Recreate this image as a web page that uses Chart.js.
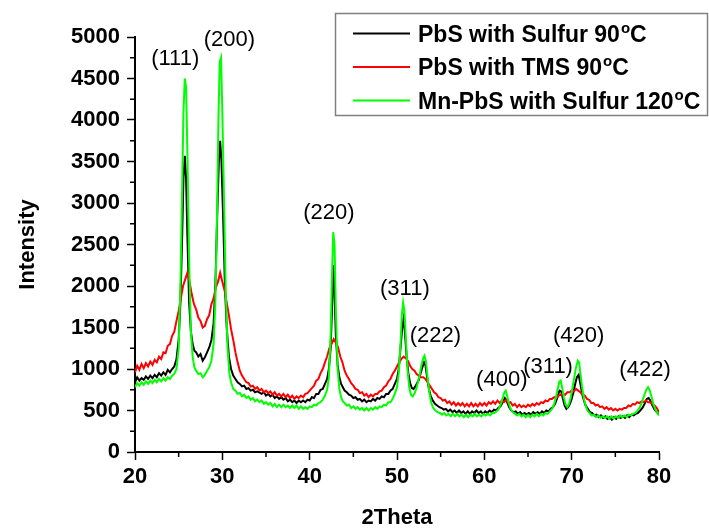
<!DOCTYPE html>
<html>
<head>
<meta charset="utf-8">
<title>XRD PbS</title>
<script src="https://cdn.jsdelivr.net/npm/chart.js@4.4.0/dist/chart.umd.min.js"></script>
<style>
  html, body { margin: 0; padding: 0; background: #fff; }
  #wrap { width: 709px; height: 528px; }
</style>
</head>
<body>
<div id="wrap"><canvas id="xrd" width="709" height="528"></canvas></div>
<script>
// ── data ───────────────────────────────────────────────
const seriesNames = ['PbS with Sulfur 90°C', 'PbS with TMS 90°C', 'Mn-PbS with Sulfur 120°C'];
const seriesColors = ['#000000', '#ff0000', '#00ff00'];

// [2theta, intensity]
const sulfur90 = [
  [20,840],[20.25,900],[20.5,860],[20.75,890],[21,870],[21.25,910],[21.5,880],[21.75,920],[22,890],[22.25,930],
  [22.5,900],[22.75,950],[23,920],[23.25,960],[23.5,930],[23.75,990],[24,960],[24.25,1000],[24.5,1030],[24.75,1120],
  [25,1350],[25.2,1800],[25.4,2600],[25.55,3300],[25.7,3570],[25.85,3300],[26,2600],[26.2,1800],[26.4,1450],[26.6,1300],
  [26.8,1220],[27,1200],[27.25,1150],[27.5,1180],[27.75,1100],[28,1140],[28.25,1200],[28.5,1260],[28.75,1350],[29,1550],
  [29.2,2000],[29.4,2800],[29.6,3500],[29.75,3750],[29.9,3500],[30.1,2800],[30.3,2000],[30.5,1500],[30.75,1150],[31,1000],
  [31.25,920],[31.5,880],[31.75,840],[32,820],[32.25,790],[32.5,800],[32.75,760],[33,770],[33.25,740],[33.5,750],
  [33.75,720],[34,730],[34.5,700],[34.75,720],[35,680],[35.25,700],[35.5,670],[35.75,690],[36,650],[36.25,670],
  [36.5,640],[36.75,660],[37,630],[37.25,650],[37.5,610],[37.75,630],[38,600],[38.25,620],[38.5,590],[38.75,620],
  [39,600],[39.25,620],[39.5,600],[39.75,630],[40,620],[40.25,660],[40.5,650],[40.75,700],[41,700],[41.25,750],
  [41.5,760],[41.75,820],[42,880],[42.2,1000],[42.4,1250],[42.55,1700],[42.7,2250],[42.85,1900],[43,1400],[43.2,1050],
  [43.4,900],[43.6,820],[43.8,780],[44,740],[44.25,720],[44.5,690],[44.75,680],[45,650],[45.25,660],[45.5,630],
  [45.75,640],[46,610],[46.25,630],[46.5,600],[46.75,620],[47,610],[47.25,640],[47.5,620],[47.75,650],[48,640],
  [48.25,670],[48.5,660],[48.75,700],[49,700],[49.25,740],[49.5,760],[49.75,820],[50,880],[50.2,1000],[50.4,1250],
  [50.6,1500],[50.75,1600],[50.9,1450],[51.1,1150],[51.3,950],[51.5,830],[51.7,770],[51.9,760],[52.1,790],[52.3,830],
  [52.5,870],[52.7,950],[52.9,1020],[53.1,1080],[53.25,1050],[53.45,900],[53.65,760],[53.85,680],[54.1,620],[54.35,580],
  [54.6,560],[54.85,540],[55.1,530],[55.35,510],[55.6,520],[55.85,490],[56.1,510],[56.35,480],[56.6,500],[56.85,470],
  [57.1,500],[57.35,470],[57.6,490],[57.85,460],[58.1,490],[58.35,460],[58.6,490],[58.85,470],[59.1,500],[59.35,470],
  [59.6,490],[59.85,460],[60.1,490],[60.35,470],[60.6,500],[60.85,480],[61.1,510],[61.35,500],[61.6,530],[61.85,550],
  [62.1,600],[62.35,650],[62.6,600],[62.85,540],[63.1,500],[63.35,480],[63.6,490],[63.85,460],[64.1,480],[64.35,450],
  [64.6,470],[64.85,450],[65.1,470],[65.35,450],[65.6,480],[65.85,460],[66.1,480],[66.35,460],[66.6,490],[66.85,470],
  [67.1,500],[67.35,490],[67.6,520],[67.85,540],[68.1,580],[68.35,650],[68.6,740],[68.8,730],[69,640],[69.2,560],
  [69.4,520],[69.6,540],[69.8,580],[70,640],[70.2,720],[70.4,820],[70.6,900],[70.8,930],[71,820],[71.2,700],
  [71.4,620],[71.6,560],[71.85,520],[72.1,480],[72.35,470],[72.6,440],[72.85,450],[73.1,420],[73.35,440],[73.6,410],
  [73.85,430],[74.1,400],[74.35,420],[74.6,390],[74.85,420],[75.1,400],[75.35,430],[75.6,410],[75.85,430],[76.1,410],
  [76.35,440],[76.6,420],[76.85,450],[77.1,440],[77.35,460],[77.6,470],[77.85,500],[78.1,530],[78.35,580],[78.6,640],
  [78.8,650],[79,620],[79.25,560],[79.5,510],[79.75,480],[80,450]
];

const tms90 = [
  [20,960],[20.25,1040],[20.5,990],[20.75,1060],[21,1010],[21.25,1070],[21.5,1030],[21.75,1090],[22,1050],[22.25,1110],
  [22.5,1080],[22.75,1150],[23,1120],[23.25,1200],[23.5,1190],[23.75,1280],[24,1300],[24.25,1400],[24.5,1450],[24.75,1580],
  [25,1700],[25.25,1850],[25.5,2000],[25.75,2080],[26,2160],[26.25,2050],[26.5,1900],[26.75,1780],[27,1720],[27.25,1620],
  [27.5,1580],[27.75,1500],[28,1520],[28.25,1600],[28.5,1650],[28.75,1780],[29,1850],[29.25,1980],[29.5,2050],[29.75,2160],
  [30,2050],[30.25,1950],[30.5,1800],[30.75,1650],[31,1480],[31.25,1350],[31.5,1200],[31.75,1080],[32,980],[32.25,920],
  [32.5,880],[32.75,840],[33,830],[33.25,790],[33.5,800],[33.75,760],[34,780],[34.25,740],[34.5,760],[34.75,720],
  [35,740],[35.25,710],[35.5,730],[35.75,690],[36,720],[36.25,680],[36.5,700],[36.75,670],[37,700],[37.25,660],
  [37.5,690],[37.75,650],[38,680],[38.25,640],[38.5,670],[38.75,650],[39,680],[39.25,660],[39.5,700],[39.75,710],
  [40,740],[40.25,770],[40.5,800],[40.75,860],[41,880],[41.25,950],[41.5,1000],[41.75,1080],[42,1150],[42.25,1250],
  [42.5,1300],[42.75,1360],[43,1320],[43.25,1260],[43.5,1150],[43.75,1080],[44,980],[44.25,920],[44.5,880],[44.75,830],
  [45,800],[45.25,760],[45.5,750],[45.75,710],[46,720],[46.25,680],[46.5,700],[46.75,660],[47,690],[47.25,670],
  [47.5,700],[47.75,700],[48,730],[48.25,740],[48.5,780],[48.75,800],[49,850],[49.25,880],[49.5,940],[49.75,980],
  [50,1030],[50.25,1080],[50.5,1120],[50.75,1150],[51,1130],[51.25,1100],[51.5,1040],[51.75,1000],[52,980],[52.25,940],
  [52.5,920],[52.75,900],[53,900],[53.25,880],[53.5,840],[53.75,800],[54,760],[54.25,720],[54.5,700],[54.75,660],
  [55,650],[55.25,620],[55.5,630],[55.75,590],[56,610],[56.25,570],[56.5,600],[56.75,560],[57,590],[57.25,560],
  [57.5,590],[57.75,550],[58,580],[58.25,550],[58.5,590],[58.75,550],[59,580],[59.25,550],[59.5,590],[59.75,560],
  [60,590],[60.25,560],[60.5,600],[60.75,580],[61,610],[61.25,580],[61.5,620],[61.75,590],[62,620],[62.25,600],
  [62.5,630],[62.75,590],[63,600],[63.25,560],[63.5,580],[63.75,540],[64,570],[64.25,540],[64.5,560],[64.75,540],
  [65,570],[65.25,550],[65.5,580],[65.75,560],[66,590],[66.25,570],[66.5,600],[66.75,590],[67,620],[67.25,610],
  [67.5,640],[67.75,640],[68,660],[68.25,650],[68.5,680],[68.75,690],[69,700],[69.25,690],[69.5,720],[69.75,720],
  [70,740],[70.25,730],[70.5,760],[70.75,740],[71,720],[71.25,690],[71.5,680],[71.75,640],[72,630],[72.25,590],
  [72.5,590],[72.75,560],[73,570],[73.25,540],[73.5,550],[73.75,520],[74,540],[74.25,510],[74.5,530],[74.75,500],
  [75,520],[75.25,500],[75.5,520],[75.75,510],[76,530],[76.25,530],[76.5,560],[76.75,550],[77,580],[77.25,570],
  [77.5,600],[77.75,590],[78,610],[78.25,600],[78.5,620],[78.75,600],[79,600],[79.25,580],[79.5,560],[79.75,530],
  [80,480]
];

const mnSulfur120 = [
  [20,780],[20.25,830],[20.5,800],[20.75,840],[21,810],[21.25,850],[21.5,820],[21.75,860],[22,830],[22.25,870],
  [22.5,840],[22.75,880],[23,850],[23.25,890],[23.5,860],[23.75,900],[24,880],[24.25,920],[24.5,940],[24.75,1000],
  [25,1250],[25.2,2000],[25.4,3200],[25.55,4100],[25.7,4500],[25.85,4400],[26,3600],[26.2,2300],[26.4,1450],[26.6,1150],
  [26.8,1020],[27,980],[27.25,940],[27.5,950],[27.75,900],[28,930],[28.25,980],[28.5,1020],[28.75,1100],[29,1300],
  [29.2,1800],[29.4,2900],[29.55,4000],[29.7,4700],[29.85,4750],[30,4100],[30.2,3000],[30.4,1900],[30.6,1250],[30.8,950],
  [31,840],[31.25,760],[31.5,740],[31.75,700],[32,710],[32.25,670],[32.5,690],[32.75,650],[33,670],[33.25,630],
  [33.5,650],[33.75,610],[34,630],[34.25,600],[34.5,620],[34.75,580],[35,600],[35.25,570],[35.5,590],[35.75,550],
  [36,580],[36.25,540],[36.5,570],[36.75,540],[37,570],[37.25,540],[37.5,560],[37.75,530],[38,560],[38.25,530],
  [38.5,560],[38.75,520],[39,550],[39.25,520],[39.5,540],[39.75,520],[40,550],[40.25,540],[40.5,570],[40.75,560],
  [41,590],[41.25,600],[41.5,630],[41.75,680],[42,750],[42.2,900],[42.4,1400],[42.55,2100],[42.7,2650],[42.85,2500],
  [43,1700],[43.2,1000],[43.4,760],[43.6,660],[43.8,610],[44,590],[44.25,560],[44.5,570],[44.75,530],[45,550],
  [45.25,520],[45.5,540],[45.75,510],[46,530],[46.25,500],[46.5,530],[46.75,500],[47,530],[47.25,510],[47.5,540],
  [47.75,520],[48,550],[48.25,540],[48.5,570],[48.75,560],[49,600],[49.25,600],[49.5,640],[49.75,700],[50,780],
  [50.2,950],[50.4,1300],[50.55,1650],[50.7,1800],[50.85,1700],[51,1400],[51.2,1000],[51.4,780],[51.6,690],[51.8,670],
  [52,700],[52.2,760],[52.4,840],[52.6,930],[52.8,1050],[53,1130],[53.15,1160],[53.3,1100],[53.5,900],[53.7,720],
  [53.9,600],[54.15,530],[54.4,500],[54.65,480],[54.9,470],[55.15,450],[55.4,470],[55.65,440],[55.9,460],[56.15,430],
  [56.4,460],[56.65,430],[56.9,460],[57.15,430],[57.4,450],[57.65,420],[57.9,450],[58.15,420],[58.4,450],[58.65,430],
  [58.9,460],[59.15,430],[59.4,450],[59.65,430],[59.9,460],[60.15,440],[60.4,460],[60.65,440],[60.9,470],[61.15,470],
  [61.4,490],[61.65,520],[61.9,580],[62.1,650],[62.3,720],[62.45,740],[62.6,680],[62.8,590],[63,520],[63.25,480],
  [63.5,460],[63.75,440],[64,460],[64.25,430],[64.5,450],[64.75,420],[65,450],[65.25,420],[65.5,450],[65.75,430],
  [66,460],[66.25,430],[66.5,460],[66.75,440],[67,470],[67.25,460],[67.5,490],[67.75,520],[68,580],[68.2,660],
  [68.4,760],[68.6,850],[68.75,860],[68.9,780],[69.1,660],[69.3,570],[69.5,540],[69.7,580],[69.9,660],[70.1,780],
  [70.3,900],[70.5,1020],[70.7,1100],[70.85,1080],[71,950],[71.2,780],[71.4,640],[71.6,560],[71.8,500],[72.05,470],
  [72.3,440],[72.55,450],[72.8,420],[73.05,440],[73.3,410],[73.55,430],[73.8,410],[74.05,430],[74.3,400],[74.55,430],
  [74.8,400],[75.05,430],[75.3,410],[75.55,440],[75.8,420],[76.05,440],[76.3,420],[76.55,450],[76.8,440],[77.05,460],
  [77.3,470],[77.55,500],[77.8,540],[78.05,600],[78.3,680],[78.55,750],[78.75,780],[78.95,740],[79.15,660],[79.35,580],
  [79.55,520],[79.8,470],[80,440]
];

// peak (hkl) labels, placed in data coordinates
const hklText = ['(111)', '(200)', '(220)', '(311)', '(222)', '(400)', '(311)', '(420)', '(422)'];
const hklX    = [24.6, 30.8, 42.2, 50.9, 54.4, 62.0, 67.3, 70.8, 78.4];
const hklY    = [4740, 4970, 2880, 1960, 1400, 870, 1030, 1400, 990];

const xMinorTicks = [25, 35, 45, 55, 65, 75];
const yMinorTicks = [250, 750, 1250, 1750, 2250, 2750, 3250, 3750, 4250, 4750];

// ── helpers ────────────────────────────────────────────
const FONT = '"Liberation Sans", Arial, sans-serif';

function toPoints(pairs) {
  return pairs.map(p => ({ x: p[0], y: p[1] }));
}

// minor ticks, hkl labels and boxed legend
const extrasPlugin = {
  id: 'extras',
  afterDraw(chart) {
    const { ctx, scales: { x, y }, chartArea } = chart;
    ctx.save();

    // minor ticks
    ctx.strokeStyle = '#000';
    ctx.lineWidth = 1.5;
    ctx.beginPath();
    xMinorTicks.forEach(v => {
      const px = x.getPixelForValue(v);
      ctx.moveTo(px, chartArea.bottom);
      ctx.lineTo(px, chartArea.bottom + 5);
    });
    yMinorTicks.forEach(v => {
      const py = y.getPixelForValue(v);
      ctx.moveTo(chartArea.left, py);
      ctx.lineTo(chartArea.left - 5, py);
    });
    ctx.stroke();

    // hkl labels
    ctx.fillStyle = '#000';
    ctx.font = '22px ' + FONT;
    ctx.textAlign = 'center';
    ctx.textBaseline = 'middle';
    hklText.forEach((t, i) => {
      ctx.fillText(t, x.getPixelForValue(hklX[i]), y.getPixelForValue(hklY[i]));
    });

    // legend box
    ctx.strokeStyle = '#808080';
    ctx.lineWidth = 1.5;
    ctx.strokeRect(335.5, 13.5, 372, 102);

    ctx.textAlign = 'left';
    ctx.textBaseline = 'alphabetic';
    chart.data.datasets.forEach((ds, i) => {
      const ly = 33.5 + i * 33.5;
      ctx.strokeStyle = ds.borderColor;
      ctx.lineWidth = 2;
      ctx.beginPath();
      ctx.moveTo(353, ly);
      ctx.lineTo(410, ly);
      ctx.stroke();

      // label with superscript "o" for the degree sign
      const parts = ds.label.split('°');
      let tx = 418;
      const base = ly + 8;
      ctx.fillStyle = '#000';
      ctx.font = 'bold 23px ' + FONT;
      ctx.fillText(parts[0], tx, base);
      tx += ctx.measureText(parts[0]).width;
      if (parts.length > 1) {
        ctx.font = 'bold 15px ' + FONT;
        ctx.fillText('o', tx + 1, base - 9);
        tx += ctx.measureText('o').width + 1;
        ctx.font = 'bold 23px ' + FONT;
        ctx.fillText(parts[1], tx, base);
      }
    });

    ctx.restore();
  }
};

// ── chart ──────────────────────────────────────────────
const pairsList = [sulfur90, tms90, mnSulfur120];

new Chart(document.getElementById('xrd'), {
  type: 'line',
  data: {
    datasets: pairsList.map((pairs, i) => ({
      label: seriesNames[i],
      data: toPoints(pairs),
      borderColor: seriesColors[i],
      borderWidth: 2,
      pointRadius: 0,
      tension: 0,
      fill: false,
      order: 3 - i,
    })),
  },
  options: {
    responsive: false,
    animation: false,
    layout: { padding: { top: 37, right: 50, bottom: 0, left: 0 } },
    plugins: {
      legend: { display: false },
      tooltip: { enabled: false },
    },
    scales: {
      x: {
        type: 'linear',
        min: 20,
        max: 80,
        afterFit(scale) { scale.height = 76; },
        ticks: {
          stepSize: 10,
          color: '#000',
          padding: 4,
          maxRotation: 0,
          callback: v => String(v),
          font: { family: FONT, size: 22, weight: 'bold' },
        },
        grid: { drawOnChartArea: false, tickLength: 8, tickColor: '#000', tickWidth: 1.5 },
        border: { display: true, color: '#000', width: 2 },
        title: {
          display: true,
          text: '2Theta',
          color: '#000',
          padding: { top: 0, bottom: -3 },
          font: { family: FONT, size: 22, weight: 'bold' },
        },
      },
      y: {
        min: 0,
        max: 5000,
        afterFit(scale) { scale.width = 135; },
        ticks: {
          stepSize: 500,
          color: '#000',
          padding: 7,
          callback: v => String(v),
          font: { family: FONT, size: 22, weight: 'bold' },
        },
        grid: { drawOnChartArea: false, tickLength: 8, tickColor: '#000', tickWidth: 1.5 },
        border: { display: true, color: '#000', width: 2 },
        title: {
          display: true,
          text: 'Intensity',
          color: '#000',
          padding: { top: 15, bottom: 0 },
          font: { family: FONT, size: 22, weight: 'bold' },
        },
      },
    },
  },
  plugins: [extrasPlugin],
});
</script>
</body>
</html>
